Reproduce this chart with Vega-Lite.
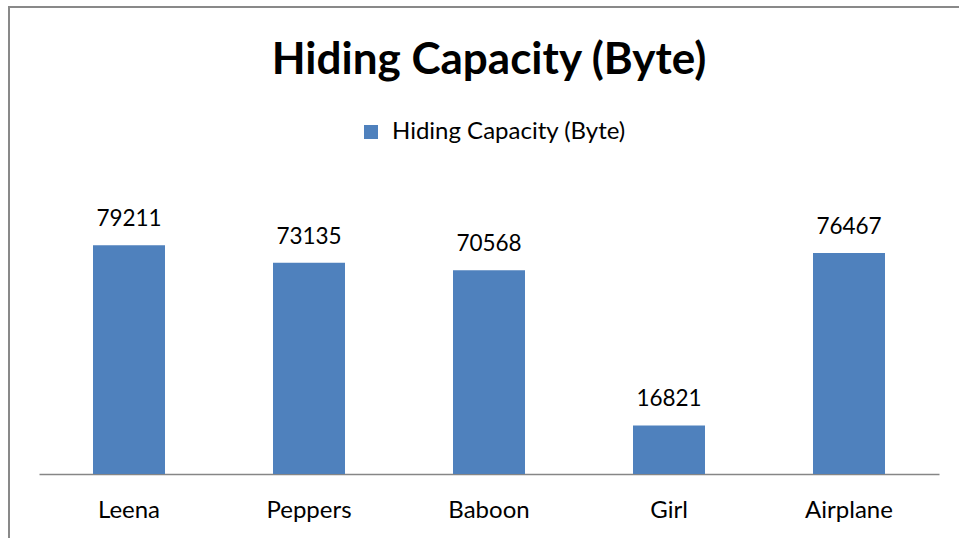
{
  "$schema": "https://vega.github.io/schema/vega-lite/v6.json",
  "autosize": {"type": "none"},
  "width": 960,
  "height": 540,
  "padding": {"left": 9, "top": 7, "right": 0, "bottom": 0},
  "background": "white",
  "config": {
    "view": {"stroke": "#898989", "strokeWidth": 2},
    "font": "Lato"
  },
  "title": {
    "text": "Hiding Capacity (Byte)",
    "font": "Lato",
    "fontSize": 44,
    "fontWeight": "bold",
    "color": "#000000",
    "anchor": "middle",
    "frame": "group",
    "baseline": "alphabetic",
    "offset": -51,
    "dy": 60
  },
  "data": {
    "values": [
      {"image": "Leena", "bytes": 79211, "series": "Hiding Capacity (Byte)"},
      {"image": "Peppers", "bytes": 73135, "series": "Hiding Capacity (Byte)"},
      {"image": "Baboon", "bytes": 70568, "series": "Hiding Capacity (Byte)"},
      {"image": "Girl", "bytes": 16821, "series": "Hiding Capacity (Byte)"},
      {"image": "Airplane", "bytes": 76467, "series": "Hiding Capacity (Byte)"}
    ]
  },
  "encoding": {
    "x": {
      "field": "image",
      "type": "nominal",
      "sort": null,
      "scale": {"range": [30, 930], "paddingInner": 0.6, "paddingOuter": 0.3},
      "axis": {
        "title": null,
        "orient": "bottom",
        "offset": -73,
        "ticks": false,
        "domainColor": "#868686",
        "domainWidth": 1.5,
        "labelAngle": 0,
        "labelFont": "Lato",
        "labelFontSize": 24,
        "labelColor": "#000000",
        "labelBaseline": "alphabetic",
        "labelPadding": 43
      }
    },
    "y": {
      "field": "bytes",
      "type": "quantitative",
      "scale": {"domain": [0, 90000], "range": [467, 207], "nice": false, "zero": true},
      "axis": null
    }
  },
  "layer": [
    {
      "mark": {"type": "bar"},
      "encoding": {
        "color": {
          "field": "series",
          "type": "nominal",
          "scale": {"range": ["#4f81bd"]},
          "legend": {
            "title": null,
            "orient": "none",
            "legendX": 350,
            "legendY": 113,
            "padding": 0,
            "symbolType": "square",
            "symbolSize": 196,
            "symbolStrokeWidth": 0,
            "labelFont": "Lato",
            "labelFontSize": 24,
            "labelLimit": 400,
            "labelColor": "#000000",
            "labelOffset": 9
          }
        }
      }
    },
    {
      "mark": {"type": "text", "baseline": "alphabetic", "dy": -19, "fontSize": 22.5, "font": "Lato", "color": "#000000"},
      "encoding": {
        "text": {"field": "bytes", "type": "quantitative", "format": "d"}
      }
    }
  ]
}
